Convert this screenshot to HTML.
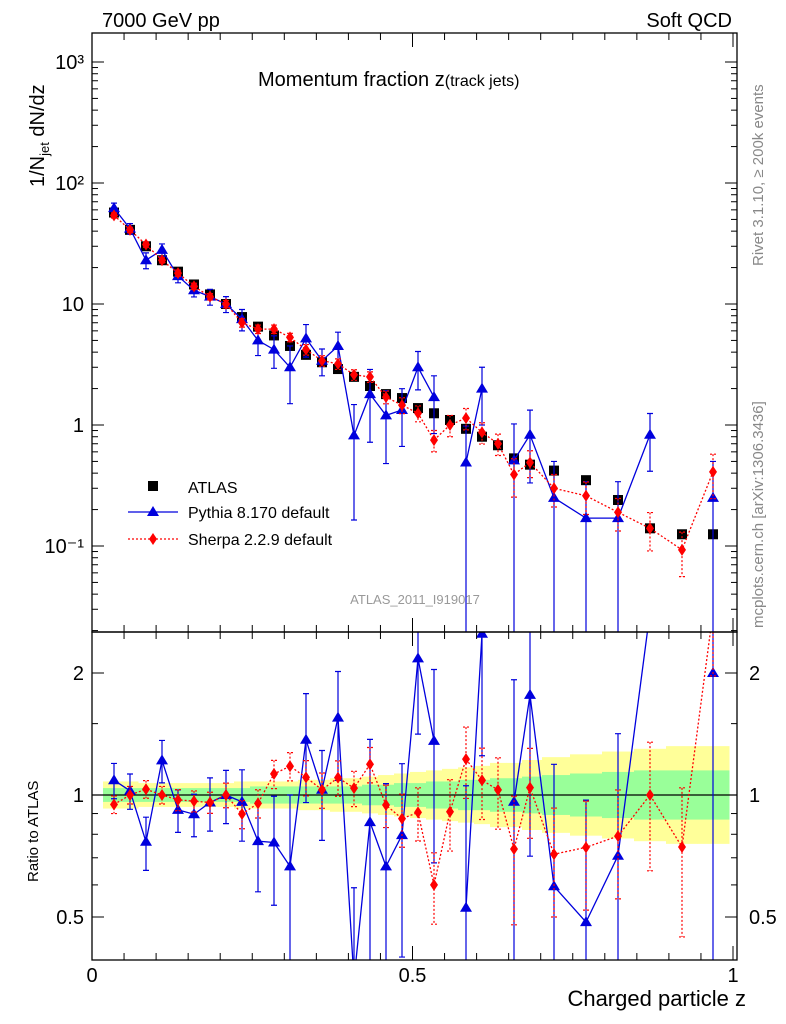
<!DOCTYPE html>
<html><head><meta charset="utf-8"><style>
html,body{margin:0;padding:0;background:#fff;width:786px;height:1024px;overflow:hidden;}
svg{display:block;font-family:"Liberation Sans",sans-serif;}
</style></head><body>
<svg id="c" width="786" height="1024" viewBox="0 0 786 1024"></svg>
<script>
const xpix=[114,130,146,162,178,194,210,226,242,258,274,290,306,322,338,354,370,386,402,418,434,450,466,482,498,514,530,554,586,618,650,682,713];
const zvals=xpix.map(p=>(p-92)/641);
const atlas=[57,41,30,23,18.5,14.5,12,10,7.8,6.5,5.5,4.5,3.8,3.3,2.9,2.5,2.1,1.8,1.67,1.38,1.25,1.1,0.93,0.8,0.68,0.53,0.47,0.42,0.35,0.24,0.14,0.125,0.125];
const pythia=[62,42,23,28,17,13,11.5,10,7.5,5,4.2,3,5.2,3.4,4.5,0.82,1.8,1.2,1.33,3.0,1.7,null,0.49,2.0,null,0.51,0.83,0.25,0.17,0.17,0.83,null,0.25];
const pyErr=[0.1,0.1,0.15,0.12,0.12,0.12,0.15,0.15,0.2,0.25,0.3,0.5,0.3,0.25,0.3,0.8,0.6,0.6,0.5,0.35,0.5,0,1,0.5,0,1,0.6,1,1,1,0.5,0,1];
const sherpa=[54,41,31,23,18,14,11.5,10,7,6.2,6.2,5.3,4.2,3.4,3.2,2.6,2.5,1.7,1.46,1.25,0.75,1.0,1.14,0.87,0.7,0.39,0.49,0.3,0.26,0.19,0.14,0.093,0.41];
const shErr=[0.05,0.05,0.05,0.05,0.06,0.06,0.06,0.07,0.08,0.08,0.08,0.08,0.1,0.1,0.1,0.1,0.1,0.12,0.15,0.15,0.2,0.2,0.2,0.2,0.2,0.35,0.25,0.3,0.3,0.3,0.35,0.4,0.4];
const bandGreen=[0.04,0.04,0.04,0.04,0.04,0.04,0.04,0.04,0.04,0.05,0.05,0.05,0.05,0.05,0.05,0.05,0.06,0.06,0.07,0.07,0.08,0.08,0.09,0.09,0.1,0.1,0.11,0.12,0.13,0.14,0.15,0.15,0.15];
const bandYellow=[0.08,0.08,0.07,0.07,0.07,0.07,0.07,0.07,0.08,0.08,0.08,0.08,0.09,0.09,0.1,0.1,0.11,0.12,0.13,0.14,0.15,0.16,0.17,0.18,0.2,0.2,0.22,0.24,0.26,0.28,0.3,0.32,0.32];
const yTicks=[1000,100,10,1,0.1];
const yTickLabels=["10³","10²","10","1","10⁻¹"];
const rTicks=[0.5,1,2];
const xTicks=[0,0.5,1];

const S=document.getElementById('c');const NS='http://www.w3.org/2000/svg';
function el(t,a,p){const e=document.createElementNS(NS,t);for(const k in a)e.setAttribute(k,a[k]);(p||S).appendChild(e);return e;}
const L=92,R=737,T=33,M=632,B=960;
const X=z=>92+641*z;
const clampY=(y,lo,hi)=>Math.max(lo,Math.min(hi,y));
const Y=v=>clampY(425-121*Math.log10(v),T-20,M+20);
const RY=r=>clampY(795-122*Math.log2(r),M-20,B+20);
const clipM=el('clipPath',{id:'cm'});el('rect',{x:L,y:T,width:R-L,height:M-T},clipM);
const clipR=el('clipPath',{id:'cr'});el('rect',{x:L,y:M,width:R-L,height:B-M},clipR);
const gM=el('g',{'clip-path':'url(#cm)'});
const gR=el('g',{'clip-path':'url(#cr)'});

function edges(i){const lo=i==0?X(zvals[0])-11:(X(zvals[i-1])+X(zvals[i]))/2;const hi=i==zvals.length-1?R-8:(X(zvals[i])+X(zvals[i+1]))/2;return[lo,hi];}
zvals.forEach((z,i)=>{const[a,b]=edges(i);
 const yu=bandYellow[i],gu=bandGreen[i];
 let r=el('rect',{x:a,y:RY(1+yu),width:b-a+0.5,height:RY(1/(1+yu))-RY(1+yu),fill:'#ffff99'},gR);
 r=el('rect',{x:a,y:RY(1+gu),width:b-a+0.5,height:RY(1/(1+gu))-RY(1+gu),fill:'#99ff99'},gR);});
el('line',{x1:L,x2:R,y1:RY(1),y2:RY(1),stroke:'#000','stroke-width':1.3},gR);

function series(g,vals,errs,col,dash,marker,yf,name,noLine,lo){
 let d='';let pen=false;
 vals.forEach((v,i)=>{if(v==null||!isFinite(v)||v<=0){pen=false;return;}const x=X(zvals[i]),y=yf(v);d+=(pen?'L':'M')+x+' '+y;pen=true;});
 if(!noLine){const p=el('path',{d:d,fill:'none',stroke:col,'stroke-width':1.3,'stroke-dasharray':dash||'none'},g);}
 vals.forEach((v,i)=>{if(v==null||!isFinite(v)||v<=0)return;const x=X(zvals[i]),y=yf(v);
  const e=errs?errs[i]:0;if(e>0){const y1=yf(v*(1+e)),y2=e>=1?lo:yf(v*(1-e));
   const ln=el('path',{d:`M${x} ${y1}L${x} ${y2}M${x-3} ${y1}L${x+3} ${y1}`+(e<1?`M${x-3} ${y2}L${x+3} ${y2}`:''),stroke:col,'stroke-width':1.2,'stroke-dasharray':dash||'none',fill:'none'},g);}
  let m;
  if(marker=='sq')m=el('rect',{x:x-5,y:y-5,width:10,height:10,fill:'#000'},g);
  else if(marker=='tri')m=el('path',{d:`M${x} ${y-6}L${x+6} ${y+4}L${x-6} ${y+4}Z`,fill:col},g);
  else m=el('path',{d:`M${x} ${y-6}L${x+4} ${y}L${x} ${y+6}L${x-4} ${y}Z`,fill:col},g);
  });
}
series(gM,atlas,null,'#000','none','sq',Y,'atlas',true,M+20);
series(gM,pythia,pyErr,'#0000dd',null,'tri',Y,'pythia',false,M+20);
series(gM,sherpa,shErr,'#ff0000','2,2','dia',Y,'sherpa',false,M+20);
const rP=pythia.map((v,i)=>v==null?null:v/atlas[i]);
const rS=sherpa.map((v,i)=>v/atlas[i]);
series(gR,rP,pyErr,'#0000dd',null,'tri',RY,'pythia-ratio',false,B+20);
series(gR,rS,shErr,'#ff0000','2,2','dia',RY,'sherpa-ratio',false,B+20);

el('rect',{x:L,y:T,width:R-L,height:M-T,fill:'none',stroke:'#000','stroke-width':1.3});
el('rect',{x:L,y:M,width:R-L,height:B-M,fill:'none',stroke:'#000','stroke-width':1.3});
yTicks.forEach((v,i)=>{const y=Y(v);el('line',{x1:L,x2:L+12,y1:y,y2:y,stroke:'#000'});el('line',{x1:R-12,x2:R,y1:y,y2:y,stroke:'#000'});
 const t=el('text',{x:L-8,y:y+7,'text-anchor':'end','font-size':20});t.textContent=yTickLabels[i];
 for(let k=2;k<10;k++){const yy=425-121*Math.log10(v*k);if(yy>T&&yy<M){el('line',{x1:L,x2:L+6,y1:yy,y2:yy,stroke:'#000'});el('line',{x1:R-6,x2:R,y1:yy,y2:yy,stroke:'#000'});}}});
[0.02,0.03,0.04,0.05,0.06,0.07,0.08,0.09].forEach(v=>{const yy=425-121*Math.log10(v);if(yy<M){el('line',{x1:L,x2:L+6,y1:yy,y2:yy,stroke:'#000'});el('line',{x1:R-6,x2:R,y1:yy,y2:yy,stroke:'#000'});}});
rTicks.forEach(v=>{const y=RY(v);el('line',{x1:L,x2:L+12,y1:y,y2:y,stroke:'#000'});el('line',{x1:R-12,x2:R,y1:y,y2:y,stroke:'#000'});
 let t=el('text',{x:L-8,y:y+7,'text-anchor':'end','font-size':20});t.textContent=String(v);
 t=el('text',{x:R+12,y:y+7,'font-size':20});t.textContent=String(v);});
[0.6,0.7,0.8,0.9,1.5].forEach(v=>{const y=RY(v);el('line',{x1:L,x2:L+6,y1:y,y2:y,stroke:'#000'});el('line',{x1:R-6,x2:R,y1:y,y2:y,stroke:'#000'});});
for(let k=0;k<=20;k++){const z=k*0.05,x=X(z),len=k%10==0?14:7;
 el('line',{x1:x,x2:x,y1:B,y2:B-len,stroke:'#000'});el('line',{x1:x,x2:x,y1:M,y2:M+len,stroke:'#000'});el('line',{x1:x,x2:x,y1:M,y2:M-len,stroke:'#000'});el('line',{x1:x,x2:x,y1:T,y2:T+len,stroke:'#000'});}
xTicks.forEach(z=>{const t=el('text',{x:X(z),y:B+22,'text-anchor':'middle','font-size':20});t.textContent=String(z);});
function txt(s,a,n){const t=el('text',a);t.textContent=s;return t;}
txt('7000 GeV pp',{x:102,y:27,'font-size':20},'energy-label');
txt('Soft QCD',{x:732,y:27,'font-size':20,'text-anchor':'end'},'process-label');
const tt=txt('Momentum fraction ',{x:258,y:86,'font-size':20},'plot-title');
const ts=document.createElementNS(NS,'tspan');ts.textContent='z';tt.appendChild(ts);
const ts2=document.createElementNS(NS,'tspan');ts2.setAttribute('font-size','16');ts2.textContent='(track jets)';tt.appendChild(ts2);
const yl=txt('1/N',{x:0,y:0,'font-size':20,transform:'translate(44,187) rotate(-90)'},'y-axis-title');
const s1=document.createElementNS(NS,'tspan');s1.setAttribute('font-size','13');s1.setAttribute('dy','5');s1.textContent='jet';yl.appendChild(s1);
const s2=document.createElementNS(NS,'tspan');s2.setAttribute('dy','-5');s2.textContent=' dN/dz';yl.appendChild(s2);
txt('Ratio to ATLAS',{x:0,y:0,'font-size':15,transform:'translate(38,882) rotate(-90)'},'ratio-axis-title');
txt('Charged particle z',{x:746,y:1006,'font-size':22,'text-anchor':'end'},'x-axis-title');
txt('Rivet 3.1.10, ≥ 200k events',{x:0,y:0,'font-size':15,fill:'#888',transform:'translate(763,266) rotate(-90)'},'rivet-label');
txt('mcplots.cern.ch [arXiv:1306.3436]',{x:0,y:0,'font-size':15,fill:'#888',transform:'translate(763,628) rotate(-90)'},'mcplots-label');
txt('ATLAS_2011_I919017',{x:415,y:604,'font-size':13,fill:'#999','text-anchor':'middle'},'analysis-id');
el('rect',{x:148,y:481,width:10,height:10,fill:'#000'});
txt('ATLAS',{x:188,y:493,'font-size':16},'legend-atlas');
el('line',{x1:128,x2:178,y1:512,y2:512,stroke:'#0000dd','stroke-width':1.3});
el('path',{d:'M153 506L159 516L147 516Z',fill:'#0000dd'});
txt('Pythia 8.170 default',{x:188,y:518,'font-size':16},'legend-pythia');
el('line',{x1:128,x2:178,y1:539,y2:539,stroke:'#ff0000','stroke-width':1.3,'stroke-dasharray':'2,2'});
el('path',{d:'M153 533L157 539L153 545L149 539Z',fill:'#ff0000'});
txt('Sherpa 2.2.9 default',{x:188,y:545,'font-size':16},'legend-sherpa');
</script>
</body></html>
